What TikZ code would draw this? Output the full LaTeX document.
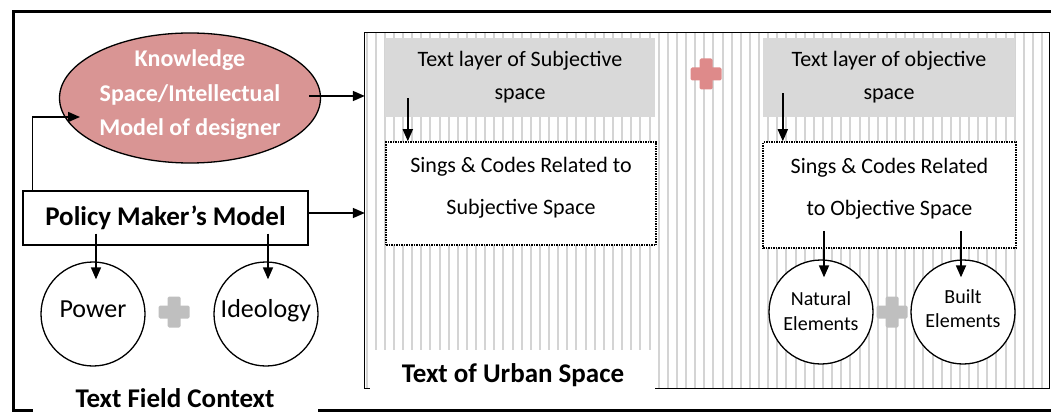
\documentclass[tikz,border=0pt]{standalone}
\usepackage{fontspec}
\setmainfont{Carlito}
\usetikzlibrary{shapes.geometric,arrows.meta,calc}
\definecolor{kspink}{RGB}{217,149,148}
\definecolor{plusred}{RGB}{222,138,138}
\definecolor{layergray}{RGB}{217,217,217}
\definecolor{stripegray}{RGB}{212,212,212}
\definecolor{plusgray}{RGB}{191,191,191}
\begin{document}
\begin{tikzpicture}[x=1pt,y=-1pt,
  arr/.style={line width=1.7pt,-{Triangle[length=12pt,width=10pt]}},
  frameline/.style={line width=3pt},
  circ/.style={circle,draw,line width=1.3pt,fill=white,minimum size=104pt,inner sep=0pt},
  circtext/.style={inner sep=0pt,align=center,font=\fontsize{26}{30}\selectfont},
  smalltext/.style={inner sep=0pt,align=center,font=\fontsize{20}{24.5}\selectfont},
  layerbox/.style={fill=layergray,minimum height=79pt,inner sep=0pt,align=center,font=\fontsize{22}{33}\selectfont},
  signbox/.style={draw,densely dotted,line width=1.5pt,fill=white,inner sep=0pt},
  signtext/.style={inner sep=0pt,align=center,font=\fontsize{22}{42}\selectfont},
  boldtext/.style={inner sep=0pt,font=\fontsize{27}{30}\selectfont\bfseries},
  plussign/.pic={
    \fill[rounded corners=1.5pt] (-15.5,-6.5) rectangle (15.5,6.5);
    \fill[rounded corners=1.5pt] (-6.5,-15.5) rectangle (6.5,15.5);
  }
 ]
\useasboundingbox (0,0) rectangle (1051,414);
\clip (0,0) rectangle (1051,414);

% outer frame
\draw[frameline] (1051,12) -- (13,12) -- (13,410) -- (33,410);
\draw[frameline] (318,410) -- (1051,410);
\node[boldtext] (tfc) at (175,398) {Text Field Context};

% inner urban box
\node[minimum width=684pt,minimum height=355pt,inner sep=0pt] (urban) at (707,210.5) {};
\begin{scope}
  \clip (urban.south west) rectangle (urban.north east);
  \foreach \i in {0,...,75}
    \draw[stripegray,line width=2pt] (366.5+9.13*\i,33) -- ++(0,355);
\end{scope}
\draw[line width=1.3pt] (urban.south west) rectangle (urban.north east);
\fill[white] (370,350) rectangle (655,396);
\node[boldtext] (tus) at (513,375) {Text of Urban Space};

% layers
\node[layerbox,minimum width=270pt] (lay1) at (520,77.5) {Text layer of Subjective\\space};
\node[layerbox,minimum width=252pt] (lay2) at (889,77.5) {Text layer of objective\\space};
\pic[plusred] at (706,74) {plussign};

% signs boxes
\node[signbox,minimum width=270pt,minimum height=103pt] (sig1) at (521,193.5) {};
\node[signtext] (sig1t) at (521,188) {Sings \& Codes Related to\\Subjective Space};
\node[signbox,minimum width=253pt,minimum height=106pt] (sig2) at (889.5,195) {};
\node[signtext] (sig2t) at (889.5,189) {Sings \& Codes Related\\to Objective Space};

% natural / built
\node[circ] (nat) at (821,312) {};
\node[smalltext] (natt) at (821,311) {Natural\\Elements};
\node[circ] (blt) at (963,312) {};
\node[smalltext] (bltt) at (963,308.5) {Built\\Elements};
\pic[plusgray] at (892,312) {plussign};

% knowledge ellipse
\node[ellipse,draw,line width=1.3pt,fill=kspink,minimum width=261pt,minimum height=130pt,inner sep=0pt] (ks) at (190,98) {};
\node[inner sep=0pt,align=center,text=white,font=\fontsize{24}{34.5}\selectfont\bfseries] (kst) at (190,95) {Knowledge\\Space/Intellectual\\Model of designer};

% policy maker
\node[draw,line width=1.3pt,fill=white,minimum width=285pt,minimum height=54pt,inner sep=0pt,font=\fontsize{27}{30}\selectfont\bfseries] (pm) at (165.5,218) {Policy Maker’s Model};

% power / ideology
\node[circ] (pw) at (93,314) {};
\node[circtext,anchor=base] (pwt) at ($(pw.center)+(0,3)$) {Power};
\node[circ] (id) at (266,314) {};
\node[circtext,anchor=base] (idt) at ($(id.center)+(0,3)$) {Ideology};
\pic[plusgray] at (174,312) {plussign};

% connectors
\coordinate (a1) at ($(ks.east)+(-12,-2)$);
\draw[arr] (a1) -- (a1 -| urban.west);
\coordinate (a2) at ($(pm.east)+(0,-5)$);
\draw[arr] (a2) -- (a2 -| urban.west);
\coordinate (k1) at ($(ks.center)+(-110,19)$);
\draw[arr] ([xshift=10pt]pm.north west) |- (k1);
\coordinate (p1) at ($(pw.north |- pm.south)+(3,-12)$);
\draw[arr] (p1) -- ($(p1 |- pw.north)+(0,18)$);
\coordinate (p2) at ($(id.north |- pm.south)+(2,-12)$);
\draw[arr] (p2) -- ($(p2 |- id.north)+(0,18)$);
\coordinate (s1) at ($(lay1.south west)+(23,-19)$);
\draw[arr] (s1) -- (s1 |- sig1.north);
\coordinate (s2) at ($(lay2.south west)+(20,-24)$);
\draw[arr] (s2) -- (s2 |- sig2.north);
\coordinate (n1) at ($(nat.north |- sig2.south)+(3,-18)$);
\draw[arr] (n1) -- ($(n1 |- nat.north)+(0,18)$);
\coordinate (b1) at ($(blt.north |- sig2.south)+(-2,-18)$);
\draw[arr] (b1) -- ($(b1 |- blt.north)+(0,18)$);
\end{tikzpicture}
\end{document}
